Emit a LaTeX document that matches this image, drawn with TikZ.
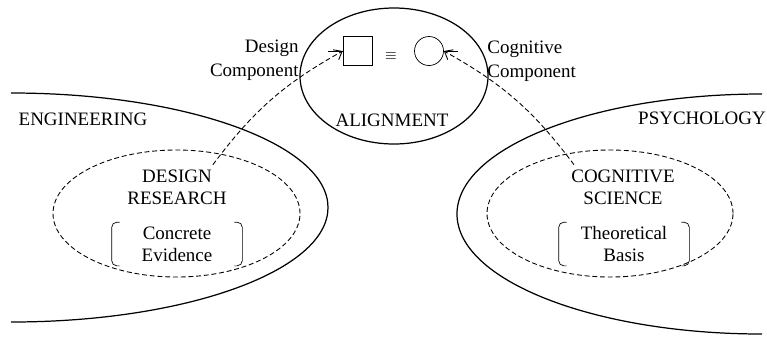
\documentclass[tikz,border=0pt]{standalone}
\usepackage{fontspec}
\setmainfont{Liberation Serif}
\usetikzlibrary{arrows.meta}

\tikzset{
    field/.style={line width=.7pt},
    branch/.style={line width=.5pt,dash pattern=on 2.8pt off 1.6pt},
    link/.style={branch,-{Straight Barb[length=4pt,width=6.5pt]}},
    txt/.style={inner sep=0pt,align=center,font=\fontsize{10.8}{12.6}\selectfont},
    basis/.style={txt,minimum width=2.6cm,minimum height=.86cm},
}

\begin{document}
\begin{tikzpicture}
    \useasboundingbox (0,0) rectangle (15.34,6.74);
    % disciplines ==========================================
    \draw[field] (0.22,4.88) arc[start angle=90,end angle=-90,x radius=6.34,y radius=2.29];
    \draw[field] (15.24,4.86) arc[start angle=90,end angle=270,x radius=6.10,y radius=2.40];
    \node[txt] (eng) at (1.66,4.36) {ENGINEERING};
    \node[txt] (psy) at (14.04,4.37) {PSYCHOLOGY};
    % alignment ============================================
    \draw[field] (7.88,5.22) ellipse [x radius=1.88,y radius=1.36];
    \node[txt] (al) at (7.84,4.34) {ALIGNMENT};
    \node[draw,minimum size=.58cm,inner sep=0pt] (sq) at (7.15,5.72) {};
    \node[draw,circle,minimum size=.58cm,inner sep=0pt] (ci) at (8.58,5.72) {};
    \node[txt,font=\footnotesize] (eq) at (7.82,5.62) {$\equiv$};
    \draw (sq.west) -- ++(-.3,0);
    \draw (ci.east) -- ++(.28,0);
    \node[txt,align=right,anchor=east] (dc) at (5.98,5.54) {Design\\[1pt]Component};
    \node[txt,align=left,anchor=west]  (cc) at (9.74,5.52) {Cognitive\\[1pt]Component};
    % research areas =======================================
    \draw[branch] (3.53,2.47) ellipse [x radius=2.47,y radius=1.27];
    \draw[branch] (12.2,2.47) ellipse [x radius=2.46,y radius=1.27];
    \node[txt] (dr) at (3.54,2.99) {DESIGN\\RESEARCH};
    \node[txt] (cs) at (12.46,2.99) {COGNITIVE\\SCIENCE};
    \node[basis] (ce) at (3.54,1.86) {Concrete\\Evidence};
    \node[basis] (tb) at (12.48,1.86) {Theoretical\\Basis};
    \foreach \n in {ce,tb} {
        \draw[rounded corners=3pt] ([xshift=4.5pt]\n.north west) -- (\n.north west) -- (\n.south west) -- ([xshift=4.5pt]\n.south west);
        \draw[rounded corners=3pt] ([xshift=-4.5pt]\n.north east) -- (\n.north east) -- (\n.south east) -- ([xshift=-4.5pt]\n.south east);
    }
    % components
    \draw[link] ([shift={(-.28,.1)}]dr.north east) to[bend left=12] (sq.west);
    \draw[link] ([shift={(.06,.1)}]cs.north west) to[bend right=12] (ci.east);
\end{tikzpicture}
\end{document}
